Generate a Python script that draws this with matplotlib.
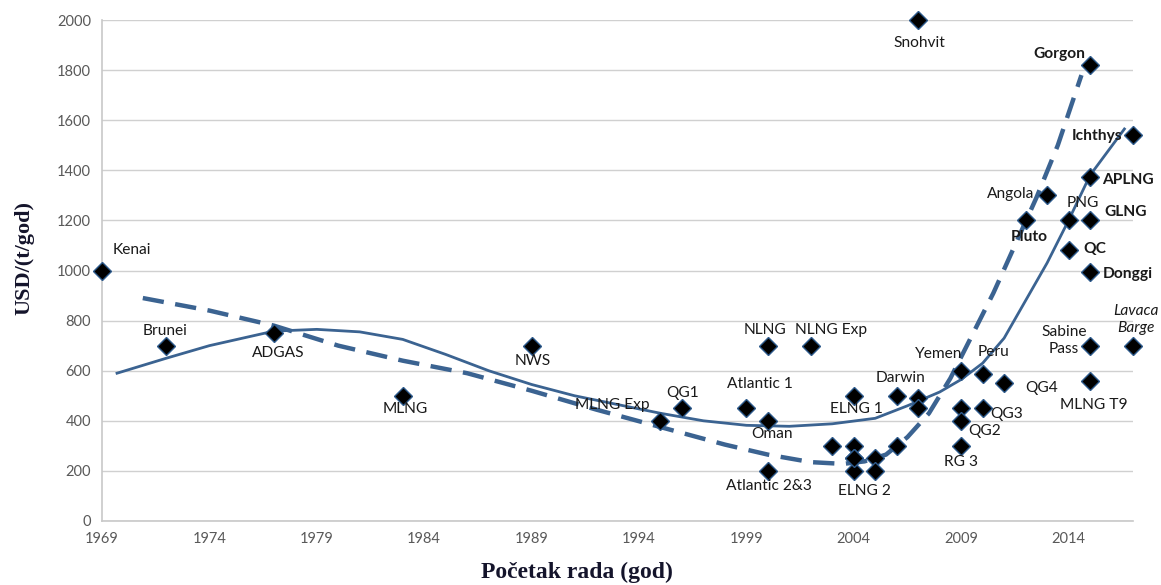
import matplotlib
matplotlib.use("Agg")
import matplotlib.pyplot as plt

# ---- data ----
names = ["Kenai", "Brunei", "ADGAS", "MLNG", "NWS", "MLNG Exp", "QG1", "Atlantic 1",
         "Oman", "Atlantic 2&3", "NLNG", "NLNG Exp", "", "", "", "", "", "",
         "ELNG 1", "ELNG 2", "", "Darwin", "", "", "Yemen", "Peru", "QG4", "",
         "QG3", "QG2", "RG 3", "Sabine\nPass", "MLNG T9", "Lavaca\nBarge",
         "Snohvit", "Gorgon", "Ichthys", "APLNG", "Angola", "Pluto", "PNG",
         "GLNG", "QC", "Donggi"]
years = [1969, 1972, 1977, 1983, 1989, 1995, 1996, 1999,
         2000, 2000, 2000, 2002, 2003, 2004, 2004, 2005, 2005, 2006,
         2004, 2004, 2004, 2006, 2007, 2007, 2009, 2010, 2011, 2009,
         2010, 2009, 2009, 2015, 2015, 2017,
         2007, 2015, 2017, 2015, 2013, 2012, 2014,
         2015, 2014, 2015]
costs = [1000, 700, 750, 500, 700, 400, 450, 450,
         400, 200, 700, 700, 300, 300, 250, 250, 200, 300,
         500, 200, 250, 500, 490, 450, 600, 585, 550, 450,
         450, 400, 300, 700, 560, 700,
         2000, 1820, 1540, 1375, 1300, 1200, 1200,
         1200, 1080, 995]

# trend curves
solid_x = [1969.7, 1972, 1974, 1977, 1979, 1981, 1983, 1985, 1987, 1989, 1991, 1993,
           1995, 1997, 1999, 2001, 2003, 2005, 2006.5, 2008, 2009, 2010, 2011,
           2012, 2013, 2014, 2015, 2016.6]
solid_y = [590, 650, 700, 758, 765, 755, 725, 665, 600, 545, 500, 465,
           430, 400, 382, 378, 388, 410, 460, 515, 565, 630, 730,
           880, 1030, 1200, 1380, 1565]
dash_x = [1970.9, 1974, 1977, 1980, 1983, 1986, 1989, 1992, 1995, 1998, 2000,
          2002, 2003.5, 2004.5, 2005.5, 2006.5, 2007.5, 2008.5, 2009.5, 2010.5,
          2011.5, 2012.5, 2013.5, 2014.6]
dash_y = [890, 840, 780, 700, 640, 590, 520, 445, 375, 305, 265,
          235, 228, 238, 265, 335, 430, 570, 740, 910,
          1100, 1290, 1500, 1780]

label_off = [(30, 20), (-1, 15), (4, -20), (3, -13), (1, -15), (-48, 16), (1, 15), (14, 24),
             (4, -13), (1, -15), (-3, 16), (20, 16), (0, 0), (0, 0), (0, 0), (0, 0), (0, 0), (0, 0),
             (3, -13), (11, -20), (0, 0), (4, 18), (0, 0), (0, 0), (-23, 17), (11, 22), (37, -5), (0, 0),
             (24, -6), (23, -10), (0, -16), (-26, 5), (4, -24), (3, 26),
             (1, -23), (-31, 11), (-36, -1), (38, -3), (-36, 1), (4, -17), (14, 17),
             (36, 8), (26, 1), (38, -2)]
bold = {"Gorgon", "Ichthys", "APLNG", "GLNG", "QC", "Donggi", "Pluto"}
italic = {"Lavaca\nBarge"}

fig = plt.figure(figsize=(11.61, 5.85), dpi=100)
ax = fig.add_axes([102 / 1161, 1 - 521 / 585, (1133 - 102) / 1161, (521 - 20) / 585])

line_col = "#3b6391"
ax.plot(solid_x, solid_y, color=line_col, lw=2.0, zorder=2)
ax.plot(dash_x, dash_y, color=line_col, lw=3.2, dashes=(4.8, 2.6), zorder=2)
ax.plot(years, costs, linestyle="none", marker="D", markersize=9.5,
        markerfacecolor="black", markeredgecolor="#2d5a8c", markeredgewidth=1.0,
        zorder=4, clip_on=False)

for n, x, y, (dx, dy) in zip(names, years, costs, label_off):
    if not n:
        continue
    kw = dict(fontsize=11.2, family="Lato", color="#1a1a1a")
    if n in bold:
        kw["fontweight"] = "bold"
    if n in italic:
        kw["fontstyle"] = "italic"
    ax.annotate(n, (x, y), xytext=(dx, dy), textcoords="offset pixels",
                ha="center", va="center", zorder=5, annotation_clip=False,
                linespacing=1.25, **kw)

ax.set_xlim(1969, 2017)
ax.set_ylim(0, 2000)
ax.set_xticks(list(range(1969, 2015, 5)))
ax.set_yticks(list(range(0, 2001, 200)))
ax.tick_params(length=0, labelsize=10.5, labelcolor="#595959", pad=8)
for lab in ax.get_xticklabels() + ax.get_yticklabels():
    lab.set_family("Lato")
ax.grid(axis="y", color="#d0d0d0", lw=1.0)
ax.set_axisbelow(True)
for s in ["top", "right"]:
    ax.spines[s].set_visible(False)
for s in ["left", "bottom"]:
    ax.spines[s].set_color("#c8c8c8")
    ax.spines[s].set_linewidth(1.2)

ax.set_xlabel("Početak rada (god)", family="Liberation Serif", fontweight="bold",
              fontsize=17, color="#14142b")
ax.xaxis.set_label_coords(0.4607, -0.082)
ax.set_ylabel("USD/(t/god)", family="Liberation Serif", fontweight="bold",
              fontsize=16, color="#14142b")
ax.yaxis.set_label_coords(-0.066, 0.525)

fig.savefig("out.png", dpi=100)
